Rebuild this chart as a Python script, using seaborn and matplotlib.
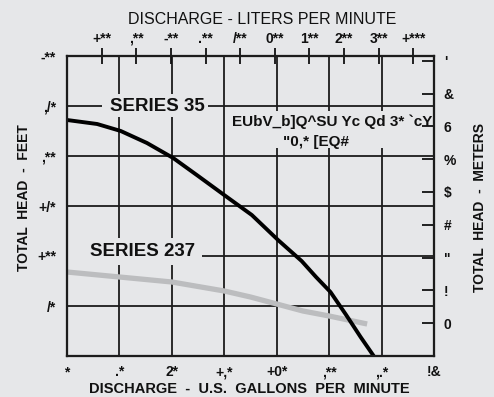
import matplotlib
matplotlib.use("Agg")
import matplotlib.pyplot as plt
import seaborn as sns
import pandas as pd
from matplotlib.patches import Rectangle

# Series 35 pump curve: discharge (U.S. gpm) vs. total head (feet)
gpm_35 = [0, 23, 41, 61, 81, 99, 122, 141, 161, 179, 190, 201, 213, 224, 234]
head_35 = [236, 232, 225, 213, 198, 181, 159, 141, 116, 95, 79, 64, 41, 19, 0]

# Series 237 pump curve
gpm_237 = [0, 40, 80, 120, 140, 160, 180, 200, 229]
head_237 = [84, 79, 74, 65, 59, 52, 45, 40, 32]

# Axis ticks and their (symbol-font encoded) labels
gpm_ticks = [0, 40, 80, 120, 160, 200, 240, 280]
gpm_labels = ["*", ".*", "2*", "+,*", "+0*", ",**", ",.*", "!&"]
feet_ticks = [50, 100, 150, 200, 250, 300]
feet_labels = ["/*", "+**", "+/*", ",**", ",/*", "-**"]
lpm_ticks = [100, 200, 300, 400, 500, 600, 700, 800, 900, 1000]
lpm_labels = ["+**", ",**", "-**", ".**", "/**", "0**", "1**", "2**", "3**", "+***"]
meter_ticks = [10, 20, 30, 40, 50, 60, 70, 80, 90]
meter_labels = ["0", "!", '"', "#", "$", "%", "6", "&", "'"]

LPM_PER_GPM = 3.785411784
FT_PER_M = 3.28084
GPM_MAX, FT_MAX = 280, 300

BG = "#e6e7e9"
INK = "#111111"
W, H = 494, 397

sns.set_theme(style="white")
plt.rcParams["font.family"] = ["Liberation Sans", "DejaVu Sans"]

fig = plt.figure(figsize=(W / 100, H / 100), dpi=100, facecolor=BG)
ax = fig.add_axes([67 / W, 1 - 356 / H, 367 / W, 300 / H])
ax.set_facecolor(BG)

df35 = pd.DataFrame({"gpm": gpm_35, "head": head_35})
df237 = pd.DataFrame({"gpm": gpm_237, "head": head_237})

sns.lineplot(data=df237, x="gpm", y="head", color="#bcbdbf", lw=3.8,
             estimator=None, ax=ax, zorder=2, solid_capstyle="butt",
             solid_joinstyle="round")
sns.lineplot(data=df35, x="gpm", y="head", color="black", lw=2.8,
             estimator=None, ax=ax, zorder=2.2, solid_capstyle="butt",
             solid_joinstyle="round")

ax.set_xlim(0, GPM_MAX)
ax.set_ylim(0, FT_MAX)
ax.set_xticks(gpm_ticks)
ax.set_xticklabels(gpm_labels, fontsize=10, fontweight="bold")
ax.set_yticks(feet_ticks)
ax.set_yticklabels(feet_labels, fontsize=10, fontweight="bold")
ax.tick_params(axis="x", length=0, pad=6.5, colors=INK)
ax.tick_params(axis="y", length=0, pad=8, colors=INK)
ax.set_xlabel("")
ax.set_ylabel("")
ax.grid(True, color="#1c1c1c", lw=1.3)
ax.set_axisbelow(True)
for s in ax.spines.values():
    s.set_color("#1c1c1c")
    s.set_linewidth(1.5)

# Label backgrounds that interrupt the grid
for (x0, y0, w, h) in [(0.095, 0.797, 0.29, 0.075),
                       (0.0, 0.303, 0.368, 0.09),
                       (0.447, 0.693, 0.553, 0.124)]:
    ax.add_patch(Rectangle((x0, y0), w, h, transform=ax.transAxes,
                           facecolor=BG, edgecolor="none", zorder=1))

ax.text(0.245, 0.833, "SERIES 35", transform=ax.transAxes, ha="center",
        va="center", fontsize=13.5, fontweight="bold", color=INK, zorder=3)
ax.text(0.207, 0.347, "SERIES 237", transform=ax.transAxes, ha="center",
        va="center", fontsize=13.5, fontweight="bold", color=INK, zorder=3)
ax.text(0.722, 0.78, "EUbV_b]Q^SU Yc Qd 3* `cY", transform=ax.transAxes,
        ha="center", va="center", fontsize=11, fontweight="bold",
        color=INK, zorder=3)
ax.text(0.678, 0.713, '"0,* [EQ#', transform=ax.transAxes, ha="center",
        va="center", fontsize=11, fontweight="bold", color=INK, zorder=3)

# Metres on the right
ax_m = ax.twinx()
ax_m.set_ylim(0, FT_MAX / FT_PER_M)
ax_m.set_yticks(meter_ticks)
ax_m.set_yticklabels(meter_labels, fontsize=10, fontweight="bold")
ax_m.tick_params(axis="y", direction="in", length=9, width=1.3, pad=7,
                 colors=INK)
ax_m.grid(False)

# Litres per minute on top
ax_l = ax.twiny()
ax_l.set_xlim(0, GPM_MAX * LPM_PER_GPM)
ax_l.set_xticks(lpm_ticks)
ax_l.set_xticklabels(lpm_labels, fontsize=10, fontweight="bold")
ax_l.tick_params(axis="x", direction="inout", length=12, width=1.3, pad=1.5,
                 colors=INK)
ax_l.grid(False)
for a in (ax_m, ax_l):
    for s in a.spines.values():
        s.set_color("#1c1c1c")
        s.set_linewidth(1.5)

fig.text(262 / W, 1 - 19 / H, "DISCHARGE - LITERS PER MINUTE", ha="center",
         va="center", fontsize=11.5, color=INK)
fig.text(249 / W, 1 - 389 / H, "DISCHARGE  -  U.S.  GALLONS  PER  MINUTE",
         ha="center", va="center", fontsize=10.5, fontweight="bold",
         color=INK)
fig.text(24 / W, 1 - 198 / H, "TOTAL  HEAD  -  FEET", rotation=90,
         ha="center", va="center", fontsize=10, fontweight="bold",
         color=INK)
fig.text(480 / W, 1 - 208 / H, "TOTAL  HEAD  -  METERS", rotation=90,
         ha="center", va="center", fontsize=10, fontweight="bold",
         color=INK)

fig.savefig("out.png", dpi=100, facecolor=BG)
